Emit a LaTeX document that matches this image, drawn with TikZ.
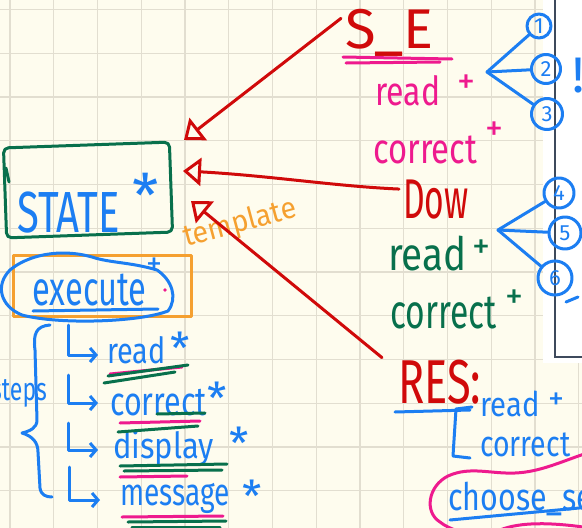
\documentclass[tikz,border=0pt]{standalone}
\usepackage{fontspec}
\setmainfont{Fira Sans}
\usepackage{graphicx}
\usetikzlibrary{arrows.meta,bending}

\definecolor{paper}{HTML}{FEFCEE}
\definecolor{gridc}{HTML}{E2DED0}
\definecolor{inkred}{HTML}{D00A0A}
\definecolor{inkgreen}{HTML}{08704C}
\definecolor{inkblue}{HTML}{1C7EF2}
\definecolor{inkorange}{HTML}{F5A030}
\definecolor{inkpink}{HTML}{EE1A8E}
\definecolor{panelline}{HTML}{3E4A5C}

\newcommand{\fs}[1]{\fontsize{#1}{#1}\selectfont}
\newcommand{\sq}[2]{\scalebox{#1}[1]{#2}}

\tikzset{
  pen/.style={line width=3pt,line cap=round,line join=round},
  word/.style={inner sep=0pt,anchor=base west},
  sym/.style={inner sep=0pt,anchor=center},
  circnum/.style={draw=inkblue,pen,circle,inner sep=0pt,text=inkblue,font=\fs{22}},
  inherit/.style={pen,draw=inkred,-{Triangle[open,length=18pt,width=28pt]}},
  stepline/.style={pen,draw=inkblue,-{Straight Barb[length=6pt,width=14pt]}}
}

\begin{document}
\begin{tikzpicture}[x=1pt,y=-1pt]
\useasboundingbox (0,0) rectangle (582,528);
\clip (0,0) rectangle (582,528);

% paper and squared grid
\fill[paper] (0,0) rectangle (582,528);
\foreach \k in {0,...,13} {
  \draw[gridc,line width=1.1pt] ({10+43.75*\k},0) -- ({10+43.75*\k},528);
  \draw[gridc,line width=1.1pt] (0,{9.5+43.75*\k}) -- (582,{9.5+43.75*\k});
}

% white side panel
\fill[white] (543,0) rectangle (582,363);
\draw[panelline,line width=1.2pt] (555,0) -- (555,357) -- (582,357);

% ---------- STATE box ----------
\node[draw=inkgreen,pen,minimum width=166pt,minimum height=90pt,rounded corners=5pt,rotate=2] (state) at (88,190) {};
\draw[pen,inkgreen] (6,168) -- (9,182);
\node[word,text=inkblue,font=\fs{58}] (statelbl) at (17,232) {\sq{0.69}{STATE}};
\node[sym,text=inkblue,font=\fs{60}] (statestar) at (146,195) {*};

% hollow-triangle heads sit just right of the box
\coordinate (t1) at (184,140);
\coordinate (t2) at (183,171);
\coordinate (t3) at (191,201);

\node[sym,text=inkorange,font=\fs{30},rotate=15] (tmpl) at (240,224) {\sq{0.95}{template}};

% ---------- execute ----------
\node[draw=inkorange,pen,minimum width=178pt,minimum height=61pt] (exec) at (102,286) {};
\draw[pen,inkblue] (157,270) .. controls (130,262) and (110,263) .. (92,257)
   .. controls (60,248) and (28,255) .. (10,270)
   .. controls (-5,285) and (0,306) .. (22,315)
   .. controls (60,325) and (140,322) .. (168,311)
   .. controls (178,298) and (172,280) .. (157,270);
\node[word,text=inkblue,font=\fs{48}] (execlbl) at (32,305) {\sq{0.68}{execute}};
\draw[pen,inkblue] (33,311) -- (158,309);
\node[sym,text=inkblue,font=\fs{32}] (execstar) at (154,266) {+};
\fill[inkpink] (165,290) circle (1.8pt);

% steps brace
\draw[pen,inkblue] (50,325) .. controls (36,326) and (33,334) .. (35,350)
   -- (37,420) .. controls (37,428) and (30,431) .. (22,433)
   .. controls (32,436) and (38,442) .. (38,452)
   -- (40,488) .. controls (41,495) and (46,497) .. (52,497);
\node[word,text=inkblue,font=\fs{32}] (stepslbl) at (-9,400) {\sq{0.72}{steps}};

% step items
\node[word,text=inkblue,font=\fs{36}] (r1) at (107,363) {\sq{0.8}{read}};
\node[word,text=inkblue,font=\fs{40}] (r2) at (110,415) {\sq{0.76}{correct}};
\node[word,text=inkblue,font=\fs{36}] (r3) at (113,458) {\sq{0.86}{display}};
\node[word,text=inkblue,font=\fs{38}] (r4) at (120,505) {\sq{0.74}{message}};
\node[sym,text=inkblue,font=\fs{44}] (s1) at (180,348) {*};
\node[sym,text=inkblue,font=\fs{44}] (s2) at (217,398) {*};
\node[sym,text=inkblue,font=\fs{44}] (s3) at (239,443) {*};
\node[sym,text=inkblue,font=\fs{44}] (s4) at (252,496) {*};

\coordinate (L1) at (68,325);
\coordinate (L2) at (68,375);
\coordinate (L3) at (68,423);
\coordinate (L4) at (69,467);
\coordinate (e1) at (98,355);
\coordinate (e2) at (98,403);
\coordinate (e3) at (98,450);
\coordinate (e4) at (100,500);
\draw[stepline] (L1) |- (e1);
\draw[stepline] (L2) |- (e2);
\draw[stepline] (L3) |- (e3);
\draw[stepline] (L4) |- (e4);

% underlines of the step items
\draw[pen,inkpink] (110,374) -- (182,367);
\draw[pen,inkgreen] (108,376) -- (188,365);
\draw[pen,inkgreen] (104,383) -- (175,372);
\draw[pen,inkpink] (120,423) -- (200,421);
\draw[pen,inkgreen] (118,432) -- (198,426);
\draw[pen,inkgreen] (157,414) -- (205,413);
\draw[pen,inkgreen] (120,466) -- (227,464);
\draw[pen,inkgreen] (124,471) -- (222,470);
\draw[pen,inkpink] (120,477) -- (187,476);
\draw[pen,inkpink] (122,517) -- (223,516);
\draw[pen,inkgreen] (128,522) -- (226,521);
\draw[pen,inkgreen] (132,527) -- (220,527);

% ---------- S_E ----------
\node[word,text=inkred,font=\fs{56}] (se) at (345,48) {S\_E};
\draw[pen,inkpink] (343,57) -- (452,59);
\draw[pen,inkpink] (346,63) -- (440,62);
\node[word,text=inkpink,font=\fs{40}] (sered) at (375,105) {\sq{0.8}{read}};
\node[sym,text=inkpink,font=\fs{36}] (seplus1) at (466,84) {+};
\node[word,text=inkpink,font=\fs{42}] (secor) at (373,163) {\sq{0.78}{correct}};
\node[sym,text=inkpink,font=\fs{36}] (seplus2) at (494,131) {+};

\coordinate (b1) at (487,72);
\node[circnum,minimum size=24pt] (c1) at (539,26) {1};
\node[circnum,minimum size=29pt] (c2) at (546,69) {2};
\node[circnum,minimum size=31pt] (c3) at (547,114) {3};
\draw[pen,inkblue] (b1) -- (c1);
\draw[pen,inkblue] (b1) -- (c2);
\draw[pen,inkblue] (b1) -- (c3);
\node[word,text=inkblue,font=\fs{50}] (bang) at (572,92) {!};

% ---------- Dow ----------
\node[word,text=inkred,font=\fs{56}] (dow) at (403,218) {\sq{0.6}{Dow}};
\node[word,text=inkgreen,font=\fs{46}] (dowred) at (388,270) {\sq{0.84}{read}};
\node[sym,text=inkgreen,font=\fs{36}] (dplus1) at (481,249) {+};
\node[word,text=inkgreen,font=\fs{48}] (dowcor) at (390,328) {\sq{0.7}{correct}};
\node[sym,text=inkgreen,font=\fs{36}] (dplus2) at (514,299) {+};

\coordinate (b2) at (498,230);
\node[circnum,minimum size=30pt] (c4) at (559,193) {4};
\node[circnum,minimum size=32pt] (c5) at (565,233) {5};
\node[circnum,minimum size=34pt] (c6) at (555,278) {6};
\draw[pen,inkblue] (b2) -- (c4);
\draw[pen,inkblue] (b2) -- (c5);
\draw[pen,inkblue] (b2) -- (c6);
\draw[pen,inkblue] (566,302) -- (578,297);

% ---------- RES ----------
\node[word,text=inkred,font=\fs{62}] (res) at (398,403) {\sq{0.7}{RES:}};
\draw[pen,inkblue] (395,412) -- (470,410);
\draw[pen,inkblue] (472,407) -- (456,409) -- (453,456) -- (470,458);
\node[word,text=inkblue,font=\fs{34}] (resred) at (480,416) {\sq{0.86}{read}};
\node[sym,text=inkblue,font=\fs{32}] (resplus) at (556,401) {+};
\node[word,text=inkblue,font=\fs{36}] (rescor) at (480,456) {\sq{0.79}{correct}};

% choose_se, circled in pink
\draw[pen,inkpink] (590,452) .. controls (560,462) and (540,472) .. (515,473)
   .. controls (490,474) and (470,466) .. (448,476)
   .. controls (428,486) and (424,512) .. (440,522)
   .. controls (445,526) and (450,528) .. (455,530);
\draw[pen,inkpink] (500,530) .. controls (520,522) and (550,522) .. (590,528);
\node[word,text=inkblue,font=\fs{38}] (choose) at (448,510) {\sq{0.8}{choose\_se}};
\draw[pen,inkblue] (450,520) -- (590,507);

% ---------- inheritance arrows ----------
\draw[inherit] (se.west) ++(-4,-14) -- (t1);
\draw[inherit] (dow.west) ++(-4,-10) .. controls (330,186) and (260,174) .. (t2);
\draw[inherit] (res.west) ++(-16,-24) -- (t3);
\end{tikzpicture}
\end{document}
